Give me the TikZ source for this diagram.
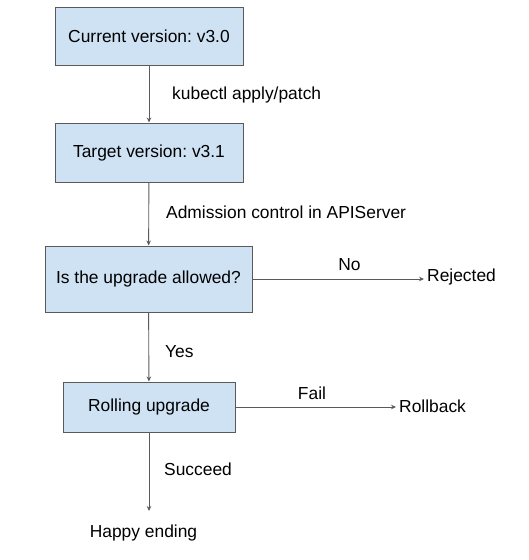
\documentclass[tikz,border=0pt]{standalone}
\usepackage{fontspec}
\setmainfont{Liberation Sans}
\usetikzlibrary{arrows.meta}
\definecolor{boxblue}{HTML}{CFE2F3}
\definecolor{linegray}{HTML}{5A5A5A}
\frenchspacing
\begin{document}
\begin{tikzpicture}[x=1pt,y=-1pt, font=\fontsize{17.4}{20}\selectfont,
  >={Stealth[length=5pt,width=4.5pt]},
  box/.style={draw=linegray, fill=boxblue, line width=1pt, inner sep=0pt},
  flow/.style={->, draw=linegray, line width=0.9pt}]
\useasboundingbox (0,0) rectangle (529,560);

\foreach \bx/\by/\bw/\bh/\bname/\btext in {149/36/188/58/cur/{Current version: v3.0},
  149/152.5/188/59/tgt/{Target version: v3.1},
  148.5/279/207/66/allow/{Is the upgrade allowed?},
  149/407/172/50/roll/{Rolling upgrade}}
\node[box, minimum width=\bw pt, minimum height=\bh pt] (\bname) at (\bx,\by) {\btext};

\foreach \lx/\ly/\lname/\ltext in {172/95/kube/{kubectl apply/patch},
  166/212/adm/{Admission control in APIServer},
  165/352/yes/Yes,
  164/469/succ/Succeed}
\node[anchor=west, inner sep=0pt] (\lname) at (\lx,\ly) {\ltext};

\node[inner sep=0pt] (no) at (349.5,265) {No};
\node[inner sep=0pt] (fail) at (312,393) {Fail};
\node[anchor=west, inner sep=3pt] (rej) at (424,277) {Rejected};
\node[anchor=west, inner sep=3pt] (rback) at (396,406) {Rollback};
\node[inner sep=0pt] (happy) at (143.5,533) {Happy ending};
\coordinate (hend) at (149,511);

\draw[flow] (cur) -- (tgt);
\draw[flow] (tgt) -- (allow);
\draw[flow] (allow) -- (roll);
\draw[flow] (allow.east) -- (allow.east -| rej.west);
\draw[flow] (roll.east) -- (roll.east -| rback.west);
\draw[flow] (roll.south) -- (hend);

\end{tikzpicture}
\end{document}
